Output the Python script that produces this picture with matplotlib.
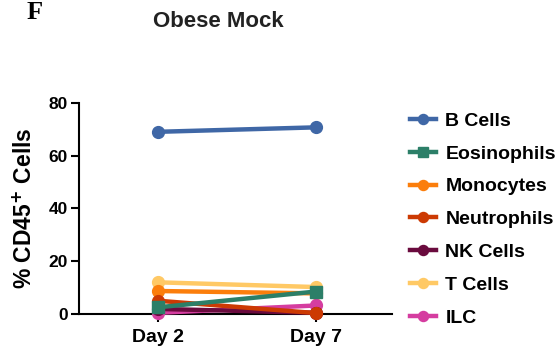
import matplotlib.pyplot as plt

plt.rcParams['font.family'] = ['Liberation Sans', 'DejaVu Sans']
plt.rcParams['font.weight'] = 'bold'

# % CD45+ cells per population, obese mock group
days = ['Day 2', 'Day 7']
b_cells = [69.1, 70.8]
eosinophils = [2.4, 8.4]
monocytes = [8.6, 7.7]
neutrophils = [4.9, 0.2]
nk_cells = [1.8, 0.3]
t_cells = [11.9, 10.1]
ilc = [0.3, 3.1]

series = [
    ("B Cells", b_cells, "#3F67A6", "o"),
    ("Eosinophils", eosinophils, "#2C7F68", "s"),
    ("Monocytes", monocytes, "#FB7E0C", "o"),
    ("Neutrophils", neutrophils, "#CC3A03", "o"),
    ("NK Cells", nk_cells, "#6A0B3E", "o"),
    ("T Cells", t_cells, "#FFC965", "o"),
    ("ILC", ilc, "#D53DA0", "o"),
]
# drawing order so that eosinophils end up on top
z_order = {"B Cells": 2, "T Cells": 3, "Monocytes": 4, "ILC": 5,
           "NK Cells": 6, "Neutrophils": 7, "Eosinophils": 8}

fig = plt.figure(figsize=(5.59, 3.52), dpi=100)
ax = fig.add_axes([0.1413, 0.109, 0.56, 0.598])

x = list(range(len(days)))
handles = []
for name, vals, color, mk in series:
    h, = ax.plot(x, vals, color=color, marker=mk, markersize=8.5, linewidth=3.2,
                 label=name, zorder=z_order[name], clip_on=False)
    handles.append(h)

ax.set_xlim(-0.5, 1.48)
ax.set_ylim(0, 80)
ax.set_yticks([0, 20, 40, 60, 80])
ax.set_xticks(x)
ax.set_xticklabels(days, fontsize=14, fontweight='bold')
ax.tick_params(axis='y', labelsize=12.5, width=1.5, length=6, pad=2)
ax.tick_params(axis='x', width=1.5, length=6, pad=5)
for lab in ax.get_yticklabels():
    lab.set_fontweight('bold')

ax.spines['top'].set_visible(False)
ax.spines['right'].set_visible(False)
ax.spines['left'].set_linewidth(1.5)
ax.spines['bottom'].set_linewidth(1.5)

ax.set_ylabel('% CD45$^{\\mathbf{+}}$ Cells', fontsize=16.5, fontweight='bold', labelpad=8)

fig.text(0.39, 0.94, 'Obese Mock', ha='center', va='center', fontsize=16,
         fontweight='bold', color='#222222')
fig.text(0.048, 0.998, 'F', ha='left', va='top', fontsize=19,
         fontweight='bold', family='Liberation Serif')

fig.legend(handles=handles, loc='upper left', bbox_to_anchor=(0.72, 0.703),
           frameon=False, fontsize=14, handlelength=1.3, handletextpad=0.5,
           labelspacing=0.78, borderaxespad=0, markerscale=0.85)

fig.savefig('out.png', dpi=100)
